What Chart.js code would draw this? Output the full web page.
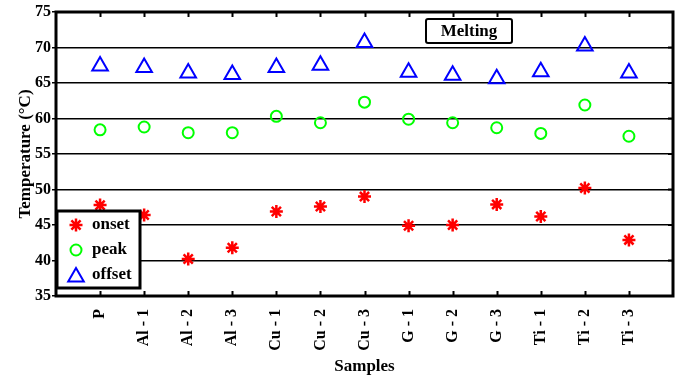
<!DOCTYPE html>
<html>
<head>
<meta charset="utf-8">
<script src="https://cdn.jsdelivr.net/npm/chart.js@4.4.0/dist/chart.umd.min.js"></script>
<style>
  html, body { margin: 0; padding: 0; background: #fff; }
  #wrap { width: 684px; height: 381px; }
</style>
</head>
<body>
<div id="wrap"><canvas id="melting-chart"></canvas></div>
<script>
var samples = ["P", "Al - 1", "Al - 2", "Al - 3", "Cu - 1", "Cu - 2", "Cu - 3", "G - 1", "G - 2", "G - 3", "Ti - 1", "Ti - 2", "Ti - 3"];
var onset  = [47.8, 46.4, 40.2, 41.8, 46.9, 47.6, 49.0, 44.9, 45.0, 47.9, 46.2, 50.2, 42.9];
var peak   = [58.4, 58.8, 58.0, 58.0, 60.3, 59.4, 62.3, 59.9, 59.4, 58.7, 57.9, 61.9, 57.5];
var offset = [67.4, 67.2, 66.4, 66.2, 67.2, 67.5, 70.7, 66.5, 66.1, 65.6, 66.6, 70.2, 66.4];
var yTicks = [35, 40, 45, 50, 55, 60, 65, 70, 75];

var FONT = "'Liberation Serif', 'Times New Roman', serif";

function toPoints(arr) {
    return arr.map(function(v, i) { return { x: i + 1, y: v }; });
}

var series = [
    { label: "onset",  data: onset,  color: "#ff0000", style: "star",     radius: 6.5, width: 2.5 },
    { label: "peak",   data: peak,   color: "#00ff00", style: "circle",   radius: 5.5, width: 2 },
    { label: "offset", data: offset, color: "#0000ff", style: "triangle", radius: 9,   width: 2 }
];

// box outline, inner ticks, "Melting" tag and the legend box
var framePlugin = {
    id: "frame",
    afterDatasetsDraw: function(chart) {
        var ctx = chart.ctx;
        var a = chart.chartArea;
        var xs = chart.scales.x, ys = chart.scales.y;
        ctx.save();
        ctx.strokeStyle = "#000";

        ctx.lineWidth = 2;
        for (var i = 1; i <= samples.length; i++) {
            var px = Math.round(xs.getPixelForValue(i)) + 0.5;
            ctx.beginPath();
            ctx.moveTo(px, a.top); ctx.lineTo(px, a.top + 5);
            ctx.moveTo(px, a.bottom); ctx.lineTo(px, a.bottom - 5);
            ctx.stroke();
        }
        yTicks.forEach(function(t) {
            var py = ys.getPixelForValue(t);
            ctx.beginPath();
            ctx.moveTo(a.right, py); ctx.lineTo(a.right - 5, py);
            ctx.stroke();
        });

        ctx.lineWidth = 3;
        ctx.strokeRect(a.left, a.top, a.right - a.left, a.bottom - a.top);

        // Melting tag
        ctx.fillStyle = "#fff";
        ctx.lineWidth = 2;
        ctx.beginPath();
        ctx.roundRect(426, 19, 86, 24, 2);
        ctx.fill(); ctx.stroke();
        ctx.fillStyle = "#000";
        ctx.font = "bold 17px " + FONT;
        ctx.textAlign = "center";
        ctx.textBaseline = "middle";
        ctx.fillText("Melting", 469, 32);

        // legend
        var lx = a.left + 1, ly = 211, lw = 83, lh = 77;
        ctx.fillStyle = "#fff";
        ctx.fillRect(lx, ly, lw, lh);
        ctx.lineWidth = 3;
        ctx.strokeStyle = "#000";
        ctx.strokeRect(lx, ly, lw, lh);
        ctx.textAlign = "left";
        series.forEach(function(s, k) {
            var cy = 225 + k * 25;
            ctx.strokeStyle = s.color;
            ctx.fillStyle = "rgba(0,0,0,0)";
            ctx.lineWidth = s.width;
            Chart.helpers.drawPoint(ctx, { pointStyle: s.style, radius: s.radius, borderWidth: s.width }, 76, s.style === "triangle" ? cy + 2 : cy);
            ctx.fillStyle = "#000";
            ctx.fillText(s.label, 92, cy);
        });
        ctx.restore();
    }
};

new Chart(document.getElementById("melting-chart"), {
    type: "scatter",
    data: {
        datasets: series.map(function(s) {
            return {
                label: s.label,
                data: toPoints(s.data),
                pointStyle: s.style,
                pointRadius: s.radius,
                pointHoverRadius: s.radius,
                borderColor: s.color,
                backgroundColor: "rgba(0,0,0,0)",
                pointBorderWidth: s.width
            };
        })
    },
    options: {
        responsive: true,
        maintainAspectRatio: false,
        animation: false,
        layout: { padding: { top: 12, right: 10, left: 0, bottom: 0 } },
        plugins: {
            legend: { display: false },
            tooltip: { enabled: false }
        },
        scales: {
            x: {
                type: "linear",
                min: 0,
                max: 14,
                afterFit: function(scale) { scale.height = 85; },
                afterBuildTicks: function(scale) {
                    scale.ticks = samples.map(function(_, i) { return { value: i + 1 }; });
                },
                grid: { display: false },
                border: { display: false },
                ticks: {
                    autoSkip: false,
                    minRotation: 90,
                    maxRotation: 90,
                    padding: 5,
                    color: "#000",
                    font: { family: FONT, size: 16, weight: "bold" },
                    callback: function(v) { return samples[v - 1] || ""; }
                },
                title: {
                    display: true,
                    text: "Samples",
                    color: "#000",
                    padding: { top: 0, bottom: 4 },
                    font: { family: FONT, size: 17, weight: "bold" }
                }
            },
            y: {
                min: 35,
                max: 75,
                afterFit: function(scale) { scale.width = 56; },
                grid: {
                    color: "#000",
                    lineWidth: 1.5,
                    drawTicks: true,
                    tickLength: 4
                },
                border: { display: false },
                ticks: {
                    stepSize: 5,
                    padding: 1,
                    color: "#000",
                    font: { family: FONT, size: 16, weight: "bold" }
                },
                title: {
                    display: true,
                    text: "Temperature (°C)",
                    color: "#000",
                    padding: { top: 15, bottom: 0 },
                    font: { family: FONT, size: 17, weight: "bold" }
                }
            }
        }
    },
    plugins: [framePlugin]
});
</script>
</body>
</html>
